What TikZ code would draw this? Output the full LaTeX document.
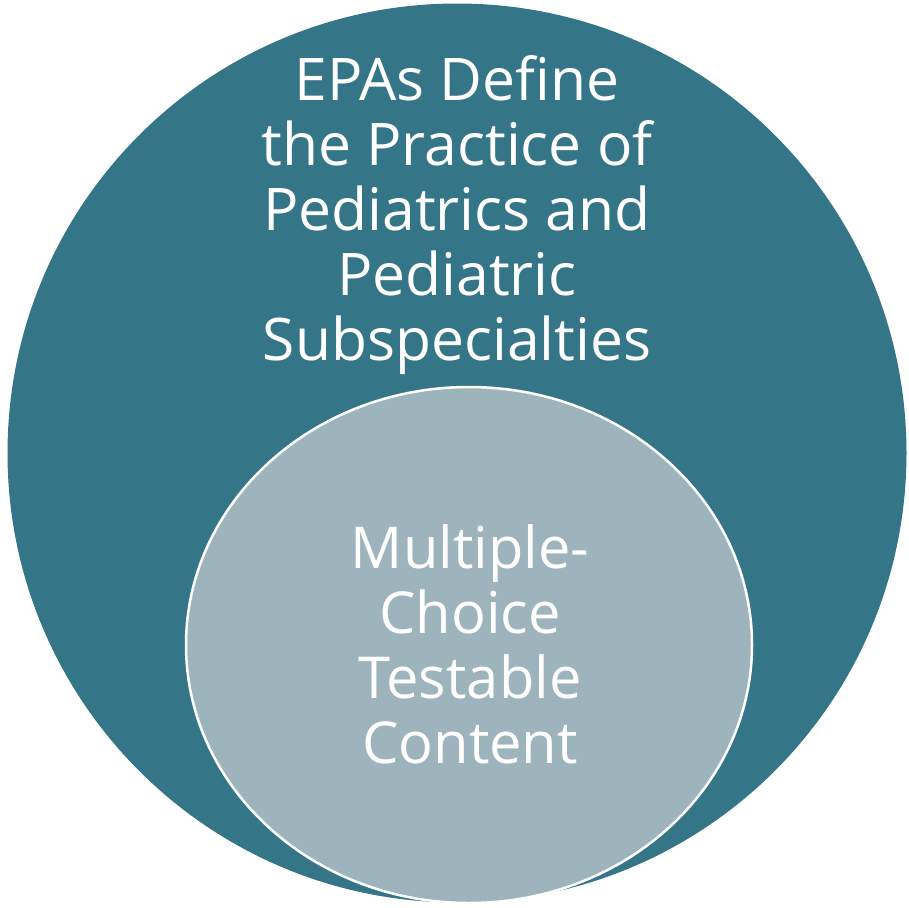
\documentclass[tikz,border=0pt]{standalone}
\usepackage{fontspec}
\setmainfont{Open Sans}
\definecolor{teal}{HTML}{347587}
\definecolor{pale}{HTML}{9EB4BD}
\tikzset{
  lbl/.style={text=white, anchor=base, inner sep=0pt, font=\fontsize{59}{65}\selectfont},
  lblin/.style={lbl, font=\fontsize{58}{65}\selectfont}
}
\begin{document}
\begin{tikzpicture}[x=1bp,y=-1bp]
\useasboundingbox (0,0) rectangle (909,908);
\fill[teal] (457,453) circle[radius=449.5];
\filldraw[fill=pale, draw=white, line width=2.5bp] (469,645) ellipse[x radius=283, y radius=258];
\node[lbl] (a1) at (457,100) {EPAs Define};
\node[lbl] (a2) at (457,165) {the Practice of};
\node[lbl] (a3) at (457,230) {Pediatrics and};
\node[lbl] (a4) at (457,295) {Pediatric};
\node[lbl] (a5) at (457,360) {Subspecialties};
\node[lblin] (b1) at (470,568) {Multiple-};
\node[lblin] (b2) at (470,633) {Choice};
\node[lblin] (b3) at (470,698) {Testable};
\node[lblin] (b4) at (470,763) {Content};
\end{tikzpicture}
\end{document}
